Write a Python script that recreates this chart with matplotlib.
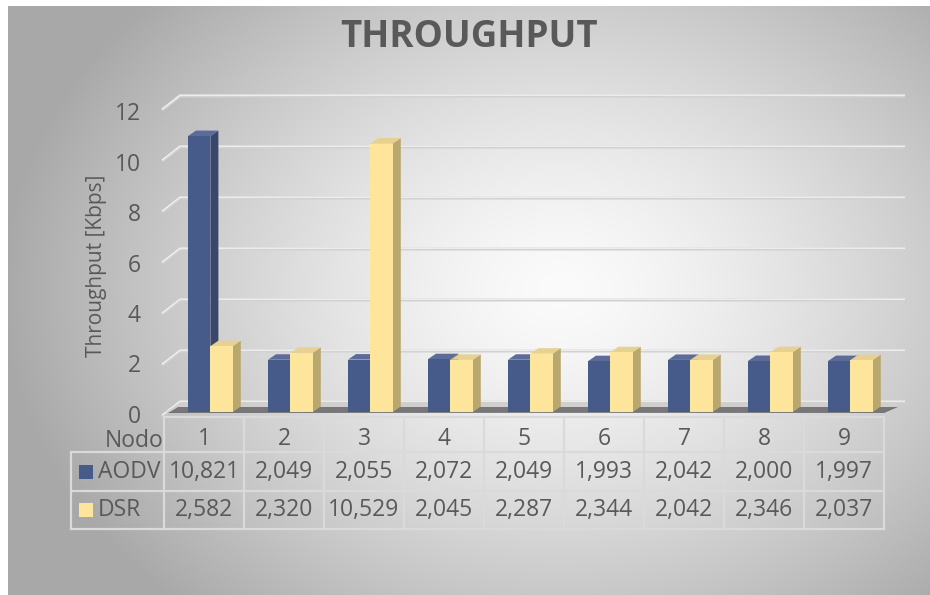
import numpy as np
import matplotlib
matplotlib.use("Agg")
import matplotlib.pyplot as plt
from matplotlib.patches import Polygon, Rectangle

# ---------------- data ----------------
nodes = ["1", "2", "3", "4", "5", "6", "7", "8", "9"]
series_names = ["AODV", "DSR"]
aodv = [10.821, 2.049, 2.055, 2.072, 2.049, 1.993, 2.042, 2.000, 1.997]
dsr = [2.582, 2.320, 10.529, 2.045, 2.287, 2.344, 2.042, 2.346, 2.037]
y_ticks = [0, 2, 4, 6, 8, 10, 12]
title = "THROUGHPUT"
y_label = "Throughput [Kbps]"
x_label = "Nodo"

def fmt(v):
    return f"{v:.3f}".replace(".", ",")

# ---------------- figure ----------------
W, H = 930, 595
fig = plt.figure(figsize=(W / 100, H / 100), dpi=100)
fig.patch.set_facecolor("white")
FONT = "Open Sans"
TXT = "#595959"
FS = 16.5

# background radial gradient (pixel overlay axes)
bg = fig.add_axes([0, 0, 1, 1])
bg.set_xlim(0, W)
bg.set_ylim(H, 0)
bg.axis("off")
yy, xx = np.mgrid[0:H, 0:W]
cx, cy = 560, 290
r = np.sqrt(((xx - cx) / 560.0) ** 2 + ((yy - cy) / 430.0) ** 2)
t = np.clip(r, 0, 1) ** 1.4
val = (251 - (251 - 168) * t) / 255.0
img = np.dstack([val, val, val])
x0, y0 = 8, 6
img[:y0, :, :] = 1.0
img[:, :x0, :] = 1.0
bg.imshow(img, extent=(0, W, H, 0), interpolation="bilinear", zorder=0)
bg.set_xlim(0, W)
bg.set_ylim(H, 0)

# ---------------- main axes (bars) ----------------
PX_PER_UNIT = 25.5
BASE_PX = 412
X_LEFT, COL_W = 164, 80
ncat = len(nodes)
ymax = 13.2
ax = fig.add_axes([X_LEFT / W, (H - BASE_PX) / H, ncat * COL_W / W, ymax * PX_PER_UNIT / H])
ax.set_xlim(-0.5, ncat - 0.5)
ax.set_ylim(0, ymax)
ax.patch.set_alpha(0)
for s in ax.spines.values():
    s.set_visible(False)
ax.set_xticks([])
ax.set_yticks([])

def px2x(px):
    return (px - X_LEFT) / COL_W - 0.5

def dy(px):
    return px / PX_PER_UNIT

# gridlines (back wall + side wall)
back_off = dy(10)
x_side0, x_back0, x_back1 = px2x(162), px2x(180), px2x(905)
for v in y_ticks:
    yb = v + back_off
    yf = yb - dy(14)
    ax.plot([x_side0, x_back0, x_back1], [yf, yb, yb], color="#d2d2d2", lw=2.2,
            clip_on=False, zorder=1, solid_capstyle="butt")
    ax.plot([x_side0, x_back0, x_back1], [yf + dy(0.8), yb + dy(0.8), yb + dy(0.8)],
            color="#f2f2f2", lw=0.9, clip_on=False, zorder=1.1, solid_capstyle="butt")

# floor
floor = Polygon([(px2x(166), 0), (px2x(884), 0), (px2x(905), back_off), (px2x(182), back_off)],
                closed=True, facecolor="#cfcfcf", edgecolor="none", clip_on=False, zorder=2)
ax.add_patch(floor)
shadow = Polygon([(px2x(168), -dy(1)), (px2x(884), -dy(1)), (px2x(898), dy(5)), (px2x(178), dy(5))],
                 closed=True, facecolor="#3c3c3c", alpha=0.6, edgecolor="none", clip_on=False, zorder=2.1)
ax.add_patch(shadow)

# bars with 3D faces
depth_x = 0.1
depth_y = dy(5.5)
series = [
    (aodv, -0.20, 0.08, "#475b8b", "#38476b", "#5b6c98"),
    (dsr, 0.08, 0.36, "#fde59c", "#b9a86e", "#e6d190"),
]
z = 3
for i in range(ncat):
    for vals, xa, xb, cf, cs, ct in series:
        v = vals[i]
        left, right = i + xa, i + xb
        ax.bar(i + (xa + xb) / 2, v, width=xb - xa, color=cf, edgecolor="none", zorder=z + 0.2)
        side = Polygon([(right, 0), (right + depth_x, depth_y), (right + depth_x, v + depth_y), (right, v)],
                       closed=True, facecolor=cs, edgecolor="none", zorder=z + 0.1)
        top = Polygon([(left, v), (left + depth_x, v + depth_y), (right + depth_x, v + depth_y), (right, v)],
                      closed=True, facecolor=ct, edgecolor="none", zorder=z + 0.1)
        ax.add_patch(side)
        ax.add_patch(top)
        z += 1

# y tick labels
for v in y_ticks:
    ylab = (25.25 * v - 5) / PX_PER_UNIT
    ax.text(px2x(141), ylab, str(v), ha="right", va="center", fontsize=FS,
            color=TXT, family=FONT, clip_on=False)

# ---------------- overlay: title, labels, table ----------------
ov = fig.add_axes([0, 0, 1, 1])
ov.set_xlim(0, W)
ov.set_ylim(H, 0)
ov.axis("off")
ov.patch.set_alpha(0)

ov.text((x0 + W) / 2, 37, title, ha="center", va="center", fontsize=26.5,
        fontweight="bold", color=TXT, family=FONT)
ov.text(96, 266, y_label, ha="center", va="center", rotation=90, fontsize=15,
        color=TXT, family=FONT)

# table geometry
t_left, t_right = 71, X_LEFT + ncat * COL_W
rows_y = [417, 452, 491, 529]
lc = "#dadada"
lw = 1.6
ov.plot([X_LEFT, t_right], [rows_y[0], rows_y[0]], color=lc, lw=lw, zorder=5)
for yv in rows_y[1:]:
    ov.plot([t_left, t_right], [yv, yv], color=lc, lw=lw, zorder=5)
ov.plot([t_left, t_left], [rows_y[1], rows_y[3]], color=lc, lw=lw, zorder=5)
for k in range(ncat + 1):
    xv = X_LEFT + k * COL_W
    ov.plot([xv, xv], [rows_y[0], rows_y[3]], color=lc, lw=lw, zorder=5)

ov.text(163, 441, x_label, ha="right", va="center", fontsize=FS, color=TXT, family=FONT)
for k, n in enumerate(nodes):
    xc = X_LEFT + (k + 0.5) * COL_W
    ov.text(xc, 439, n, ha="center", va="center", fontsize=FS, color=TXT, family=FONT)
    ov.text(xc, 472, fmt(aodv[k]), ha="center", va="center", fontsize=FS, color=TXT, family=FONT)
    ov.text(xc, 510, fmt(dsr[k]), ha="center", va="center", fontsize=FS, color=TXT, family=FONT)

key_cols = ["#475b8b", "#fde59c"]
for j, (name, kc) in enumerate(zip(series_names, key_cols)):
    yc = 472 + j * 38
    ov.add_patch(Rectangle((79, yc - 7), 14, 14, facecolor=kc, edgecolor="none", zorder=6))
    ov.text(98, yc, name, ha="left", va="center", fontsize=FS, color=TXT, family=FONT)

fig.savefig("out.png", dpi=100)
